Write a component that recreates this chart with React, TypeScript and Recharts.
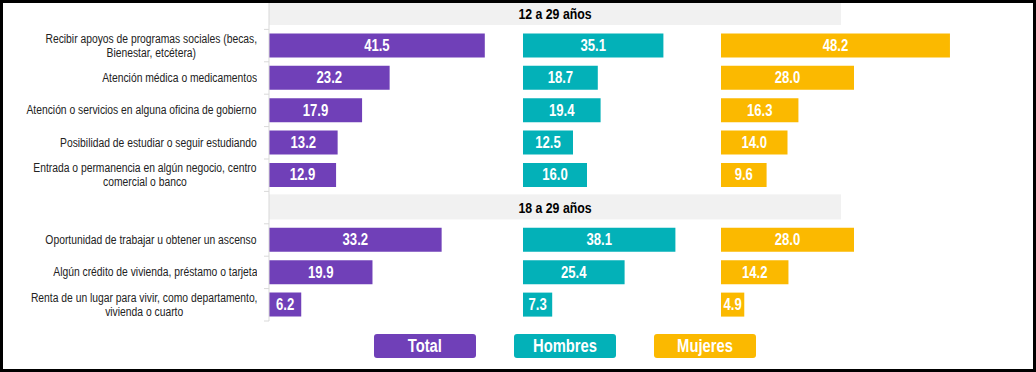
import React from "react";
import {
  BarChart,
  Bar,
  XAxis,
  YAxis,
  LabelList,
  ReferenceArea,
  Legend,
} from "recharts";

// categories top to bottom; the two age groups are header rows
const categories = [
  "12 a 29 años",
  "Recibir apoyos de programas sociales (becas,\nBienestar, etcétera)",
  "Atención médica o medicamentos",
  "Atención o servicios en alguna oficina de gobierno",
  "Posibilidad de estudiar o seguir estudiando",
  "Entrada o permanencia en algún negocio, centro\ncomercial o banco",
  "18 a 29 años",
  "Oportunidad de trabajar u obtener un ascenso",
  "Algún crédito de vivienda, préstamo o tarjeta",
  "Renta de un lugar para vivir, como departamento,\nvivienda o cuarto",
];
const headers = ["12 a 29 años", "18 a 29 años"];

const totalValues = [null, 41.5, 23.2, 17.9, 13.2, 12.9, null, 33.2, 19.9, 6.2];
const hombresValues = [null, 35.1, 18.7, 19.4, 12.5, 16.0, null, 38.1, 25.4, 7.3];
const mujeresValues = [null, 48.2, 28.0, 16.3, 14.0, 9.6, null, 28.0, 14.2, 4.9];

const seriesNames = ["Total", "Hombres", "Mujeres"];
const seriesColors = ["#7040b8", "#03b1b8", "#fbb900"];

const rows = categories.map((cat, i) => ({
  cat,
  total: totalValues[i],
  hombres: hombresValues[i],
  mujeres: mujeresValues[i],
}));

// no Arial Narrow offline: squeeze Liberation Sans horizontally
const FONT = "'Liberation Sans', Arial, sans-serif";
const NARROW = 0.82;
const PLOT_H = 324;
const SLOT = PLOT_H / categories.length;
const AXIS_X = 269;
const BAR = 24;

const fmt = (v: any) => (v == null ? "" : Number(v).toFixed(1));

function NarrowText({ x, y, children, size, weight = 400, fill = "#000", squeeze = NARROW }: any) {
  return (
    <text
      transform={`translate(${x},${y}) scale(${squeeze},1)`}
      textAnchor="middle"
      dominantBaseline="central"
      fontFamily={FONT}
      fontSize={size}
      fontWeight={weight}
      fill={fill}
    >
      {children}
    </text>
  );
}

function CategoryTick(props: any) {
  const { y, payload } = props;
  const label: string = payload.value;
  const isHeader = headers.includes(label);
  return (
    <g>
      <line
        x1={AXIS_X - 5}
        x2={AXIS_X}
        y1={y + SLOT / 2}
        y2={y + SLOT / 2}
        stroke="#d9d9d9"
      />
      {!isHeader && (
        <foreignObject x={0} y={y - SLOT / 2} width={AXIS_X - 12} height={SLOT}>
          <div
            style={{
              display: "flex",
              alignItems: "center",
              justifyContent: "flex-end",
              height: "100%",
              fontFamily: FONT,
              fontSize: 12,
              lineHeight: "14px",
              color: "#222",
            }}
          >
            <span
              style={{
                textAlign: "center",
                whiteSpace: "pre",
                transform: "scaleX(0.86)",
                transformOrigin: "right center",
              }}
            >
              {label}
            </span>
          </div>
        </foreignObject>
      )}
    </g>
  );
}

const HeaderBand = (p: any) => (
  <rect x={p.x} y={p.y + 3} width={p.width} height={25} fill="#f1f1f1" />
);

const HeaderLabel = ({ viewBox, text }: any) => (
  <NarrowText
    x={viewBox.x + viewBox.width / 2}
    y={viewBox.y + viewBox.height / 2 + 1}
    size={14}
    weight={700}
    squeeze={0.88}
  >
    {text}
  </NarrowText>
);

const ValueLabel = ({ x, y, width, height, value }: any) =>
  value == null ? null : (
    <NarrowText x={x + width / 2} y={y + height / 2} size={16} weight={700} fill="#fff">
      {fmt(value)}
    </NarrowText>
  );

function LegendBoxes() {
  return (
    <div style={{ display: "flex", gap: 38 }}>
      {seriesNames.map((name, i) => (
        <div
          key={name}
          style={{
            width: 102,
            height: 24,
            borderRadius: 3,
            background: seriesColors[i],
            color: "#fff",
            fontFamily: FONT,
            fontWeight: 700,
            fontSize: 18,
            lineHeight: "24px",
            textAlign: "center",
          }}
        >
          <span style={{ display: "inline-block", transform: `scaleX(${NARROW})` }}>{name}</span>
        </div>
      ))}
    </div>
  );
}

function SidePanel({ dataKey, color, left, width, max }: any) {
  return (
    <div style={{ position: "absolute", left, top: -3 }}>
      <BarChart
        width={width}
        height={PLOT_H}
        data={rows}
        layout="vertical"
        margin={{ top: 0, right: 0, bottom: 0, left: 0 }}
        barSize={BAR}
      >
        <XAxis type="number" domain={[0, max]} hide />
        <YAxis type="category" dataKey="cat" hide />
        <Bar dataKey={dataKey} fill={color} isAnimationActive={false}>
          <LabelList dataKey={dataKey} content={<ValueLabel />} />
        </Bar>
      </BarChart>
    </div>
  );
}

export default function App() {
  return (
    <div
      style={{
        position: "absolute",
        left: 0,
        top: 0,
        width: 1036,
        height: 372,
        background: "#fff",
        overflow: "hidden",
      }}
    >
      <div style={{ position: "absolute", left: 0, top: -3 }}>
        <BarChart
          width={841}
          height={PLOT_H + 51}
          data={rows}
          layout="vertical"
          margin={{ top: 0, right: 0, bottom: 51, left: 0 }}
          barSize={BAR}
        >
          <XAxis type="number" domain={[0, 110]} hide />
          <YAxis
            type="category"
            dataKey="cat"
            width={AXIS_X}
            interval={0}
            axisLine={{ stroke: "#d9d9d9" }}
            tickLine={false}
            tick={<CategoryTick />}
          />
          {headers.map((h) => (
            <ReferenceArea
              key={h}
              y1={h}
              y2={h}
              shape={HeaderBand}
              label={<HeaderLabel text={h} />}
            />
          ))}
          <Bar dataKey="total" fill={seriesColors[0]} isAnimationActive={false}>
            <LabelList dataKey="total" content={<ValueLabel />} />
          </Bar>
          <Legend
            layout="vertical"
            align="center"
            verticalAlign="middle"
            content={<LegendBoxes />}
            wrapperStyle={{ left: 374, top: 337, width: 390, height: 26 }}
          />
        </BarChart>
      </div>
      <SidePanel dataKey="hombres" color={seriesColors[1]} left={523} width={200} max={50} />
      <SidePanel dataKey="mujeres" color={seriesColors[2]} left={721} width={304} max={64} />
      <div
        style={{
          position: "absolute",
          inset: 0,
          border: "3px solid #000",
          pointerEvents: "none",
        }}
      />
    </div>
  );
}
